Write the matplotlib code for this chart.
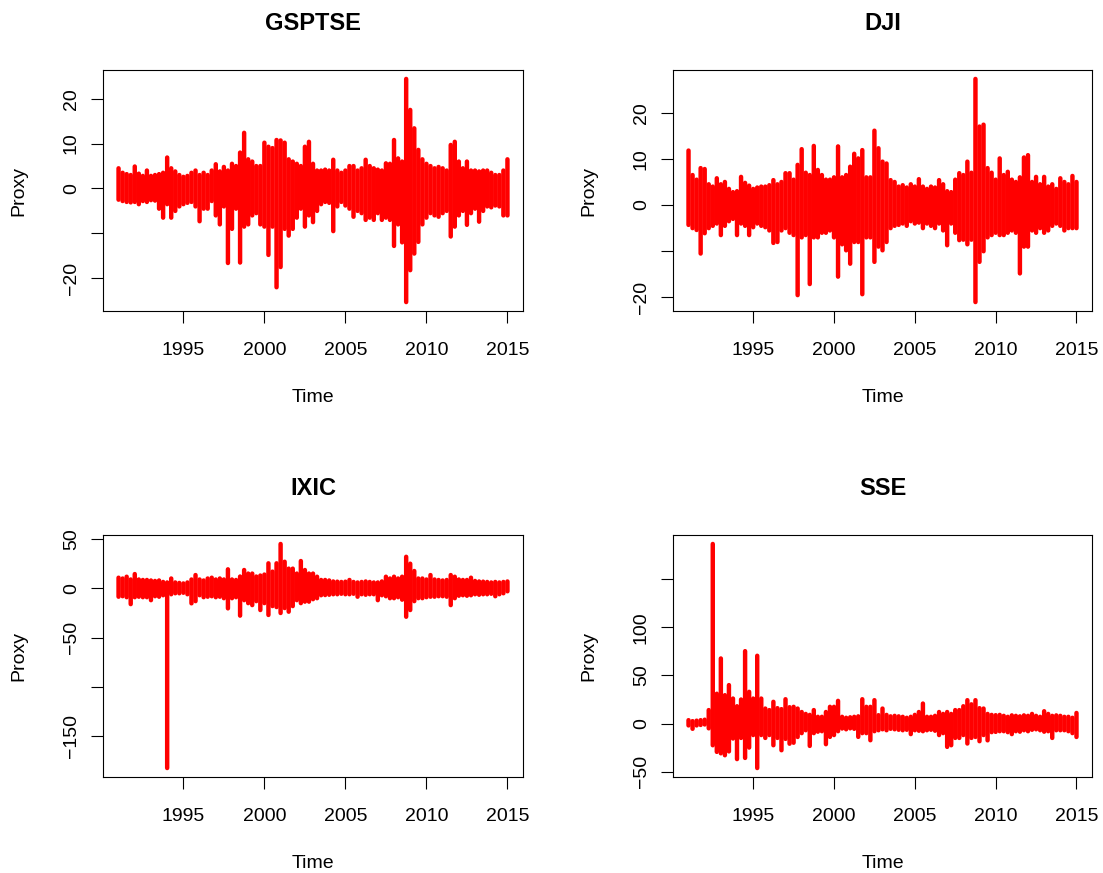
import numpy as np
import matplotlib
matplotlib.use("Agg")
import matplotlib.pyplot as plt

plt.rcParams['font.family'] = ['Liberation Sans', 'DejaVu Sans']

# Quarterly sampling of the proxy series: for every quarter the upper and
# lower excursion of the daily proxy.
START, END, STEP = 1991.0, 2015.0, 0.25

gsptse_hi = [4.5, 3.5, 3.2, 3.0, 4.9, 3.3, 2.8, 4.0, 2.8, 3.0,
             3.2, 3.5, 6.9, 4.5, 3.8, 3.0, 2.6, 2.8, 3.5, 4.0,
             3.0, 3.5, 3.0, 4.0, 5.4, 3.8, 4.8, 4.0, 5.5, 5.0,
             8.0, 12.4, 6.5, 6.0, 5.0, 5.0, 10.2, 9.3, 9.0, 10.8,
             10.7, 10.2, 6.5, 6.0, 5.5, 5.0, 9.3, 10.4, 5.5, 4.0,
             4.0, 4.2, 4.0, 6.4, 4.0, 3.5, 4.0, 5.0, 5.0, 4.0,
             4.5, 6.4, 5.0, 4.5, 4.2, 4.0, 5.6, 5.5, 10.8, 6.7,
             6.0, 24.4, 17.5, 13.4, 8.6, 6.5, 5.5, 5.0, 4.5, 4.8,
             4.5, 4.0, 9.7, 10.4, 6.0, 4.5, 6.0, 4.0, 4.0, 3.8,
             4.0, 4.0, 3.5, 3.0, 3.0, 4.0, 6.5]
gsptse_lo = [-2.5, -2.8, -3.0, -3.1, -3.0, -3.5, -2.8, -3.0, -2.6, -2.7,
             -4.5, -6.5, -3.5, -6.5, -5.0, -4.0, -3.5, -3.2, -3.0, -4.0,
             -7.3, -4.5, -4.5, -2.8, -6.0, -8.0, -4.0, -16.6, -9.0, -4.5,
             -16.5, -8.5, -8.0, -6.0, -5.5, -8.0, -8.5, -14.8, -8.5, -22.0,
             -17.5, -9.0, -10.5, -9.0, -6.5, -4.5, -8.5, -6.0, -7.5, -5.0,
             -3.5, -3.0, -3.2, -9.5, -4.0, -3.0, -3.8, -4.5, -6.3, -5.0,
             -5.5, -7.0, -6.5, -7.0, -5.5, -7.0, -6.5, -7.0, -12.8, -8.0,
             -12.0, -25.3, -18.2, -14.5, -11.9, -8.0, -6.5, -5.5, -6.0, -6.3,
             -5.5, -5.0, -10.7, -8.5, -6.0, -5.0, -8.1, -5.5, -4.5, -7.4,
             -5.0, -4.0, -4.2, -3.8, -4.0, -6.0, -6.0]

dji_hi = [11.8, 6.5, 5.5, 8.0, 7.8, 4.5, 4.0, 5.8, 4.5, 5.0,
          3.5, 2.8, 3.0, 6.1, 4.8, 4.2, 3.5, 3.8, 4.0, 4.0,
          4.3, 5.4, 4.5, 5.0, 6.9, 6.9, 5.5, 8.7, 12.1, 7.0,
          6.5, 12.8, 7.6, 6.5, 5.5, 5.5, 6.0, 12.7, 6.0, 6.5,
          8.3, 11.1, 10.1, 11.9, 6.0, 6.0, 16.1, 12.3, 9.4, 9.0,
          5.4, 5.0, 4.0, 4.3, 3.8, 4.5, 4.0, 5.6, 4.0, 3.5,
          4.0, 3.8, 5.4, 4.5, 3.0, 2.8, 5.5, 6.9, 6.5, 9.4,
          7.0, 27.3, 17.0, 17.4, 8.0, 7.0, 5.5, 10.1, 6.5, 7.2,
          5.5, 5.0, 6.0, 10.3, 10.8, 5.0, 6.1, 4.5, 6.1, 4.0,
          4.5, 3.5, 5.8, 5.0, 4.5, 6.3, 5.0]
dji_lo = [-4.3, -5.0, -5.4, -10.5, -6.1, -5.0, -4.5, -4.0, -6.5, -4.5,
          -3.5, -3.0, -6.5, -4.0, -4.5, -6.5, -4.8, -4.0, -4.5, -4.8,
          -5.5, -8.2, -8.0, -5.5, -5.0, -6.0, -6.5, -19.5, -7.0, -6.5,
          -17.1, -7.0, -7.0, -6.0, -6.0, -5.5, -7.0, -15.5, -8.5, -9.8,
          -12.7, -8.0, -8.0, -19.3, -7.0, -7.0, -12.3, -9.0, -9.8, -8.0,
          -5.0, -4.5, -4.3, -4.0, -4.5, -3.5, -4.0, -3.8, -5.0, -4.0,
          -4.5, -5.0, -4.0, -5.5, -8.7, -4.0, -6.0, -7.6, -7.5, -8.5,
          -7.5, -21.0, -12.3, -10.0, -7.0, -6.5, -6.0, -6.5, -6.5, -6.0,
          -5.5, -6.0, -14.8, -9.0, -9.0, -5.5, -6.0, -5.0, -6.0, -5.5,
          -4.5, -4.0, -4.5, -5.5, -5.0, -5.0, -5.0]

ixic_hi = [10.8, 10.0, 11.8, 9.0, 14.5, 9.0, 8.5, 8.5, 8.0, 7.5,
           8.0, 6.5, 6.0, 10.0, 6.0, 5.5, 5.0, 6.0, 9.0, 13.5,
           9.0, 8.0, 10.0, 10.8, 9.0, 10.0, 9.0, 19.3, 9.0, 8.5,
           12.0, 18.6, 15.0, 15.0, 12.0, 13.0, 14.0, 25.4, 17.0, 25.4,
           45.0, 27.0, 20.0, 20.0, 15.0, 27.7, 18.6, 15.0, 15.0, 11.8,
           8.5, 8.5, 8.0, 7.0, 6.8, 6.5, 6.8, 8.5, 6.5, 6.0,
           6.5, 7.0, 6.5, 6.0, 6.0, 7.0, 11.8, 10.0, 11.8, 10.0,
           11.8, 32.0, 25.0, 17.6, 10.0, 10.0, 9.0, 13.5, 9.0, 8.5,
           8.0, 8.5, 13.5, 11.8, 9.0, 8.5, 8.5, 10.8, 7.5, 7.0,
           6.8, 6.5, 6.0, 6.5, 6.0, 6.5, 7.0]
ixic_lo = [-8.5, -8.0, -9.0, -16.0, -9.0, -8.5, -9.0, -9.0, -12.0, -8.0,
           -8.5, -7.0, -182.2, -6.0, -5.0, -5.0, -4.5, -6.0, -15.2, -13.0,
           -7.0, -9.0, -8.5, -8.0, -9.0, -8.5, -10.0, -20.3, -10.0, -9.0,
           -27.7, -12.0, -15.0, -17.0, -13.0, -22.0, -15.0, -27.0, -18.0, -19.0,
           -25.0, -20.0, -23.7, -18.0, -12.0, -15.0, -13.5, -13.5, -11.0, -10.0,
           -7.0, -6.8, -6.5, -6.0, -6.0, -5.5, -6.0, -6.0, -5.5, -8.5,
           -6.0, -6.5, -6.0, -6.0, -12.0, -7.0, -8.0, -10.0, -10.0, -9.0,
           -11.5, -28.8, -22.0, -13.0, -10.0, -10.0, -9.0, -8.5, -8.5, -8.0,
           -8.0, -8.5, -17.0, -10.0, -7.5, -7.0, -7.5, -7.0, -6.0, -6.5,
           -6.0, -6.0, -5.5, -8.0, -6.0, -5.0, -3.0]

sse_hi = [3.5, 2.5, 3.0, 3.5, 4.0, 14.0, 186.8, 31.0, 67.7, 29.5,
          40.0, 26.0, 18.0, 25.0, 75.3, 33.0, 26.0, 70.5, 26.0, 15.6,
          14.0, 22.6, 16.0, 15.0, 25.3, 17.0, 17.4, 15.6, 12.0, 10.0,
          9.0, 14.0, 7.0, 7.0, 12.0, 17.4, 17.4, 23.6, 7.0, 6.0,
          6.5, 7.0, 7.5, 25.3, 17.4, 17.4, 24.3, 8.7, 15.6, 9.0,
          7.5, 8.0, 7.5, 7.0, 6.0, 7.0, 9.0, 12.0, 20.8, 7.0,
          7.0, 8.0, 12.0, 10.0, 12.0, 10.0, 14.0, 14.0, 18.0, 24.3,
          20.0, 24.3, 16.0, 15.6, 10.0, 9.0, 8.7, 9.0, 8.0, 7.0,
          8.5, 8.0, 7.5, 8.5, 8.0, 10.0, 8.0, 7.0, 12.8, 10.0,
          8.0, 8.5, 8.0, 7.0, 7.0, 6.0, 11.0]
sse_lo = [-2.0, -5.5, -2.0, -1.5, -1.0, -5.0, -22.6, -29.5, -31.0, -33.0,
          -29.0, -15.6, -37.0, -15.0, -35.8, -25.0, -12.0, -46.3, -12.0, -15.0,
          -12.0, -22.6, -15.0, -27.8, -16.0, -21.0, -20.0, -14.0, -10.0, -7.0,
          -23.3, -10.0, -8.5, -8.0, -21.5, -13.9, -12.0, -8.0, -5.2, -6.0,
          -5.0, -5.5, -13.9, -10.0, -10.0, -17.4, -8.0, -7.0, -6.0, -7.0,
          -5.5, -6.0, -6.5, -7.0, -6.5, -11.0, -7.0, -7.5, -8.0, -7.0,
          -6.5, -7.5, -12.0, -10.0, -24.3, -22.6, -15.0, -15.0, -12.0, -20.8,
          -15.0, -14.0, -18.4, -12.0, -17.5, -9.0, -8.7, -8.0, -8.0, -9.0,
          -11.0, -8.0, -8.5, -7.0, -8.0, -6.5, -6.0, -7.0, -8.5, -8.0,
          -15.0, -7.0, -7.0, -7.0, -8.0, -10.0, -14.0]

titles = ["GSPTSE", "DJI", "IXIC", "SSE"]
x_ticks = [1995, 2000, 2005, 2010, 2015]
gsptse_yticks = [-20, -10, 0, 10, 20]
gsptse_ylabels = ["\u221220", "", "0", "10", "20"]
dji_yticks = [-20, -10, 0, 10, 20]
dji_ylabels = ["\u221220", "", "0", "10", "20"]
ixic_yticks = [-150, -100, -50, 0, 50]
ixic_ylabels = ["\u2212150", "", "\u221250", "0", "50"]
sse_yticks = [-50, 0, 50, 100, 150]
sse_ylabels = ["\u221250", "0", "50", "100", ""]

series = [
    (gsptse_hi, gsptse_lo, gsptse_yticks, gsptse_ylabels),
    (dji_hi, dji_lo, dji_yticks, dji_ylabels),
    (ixic_hi, ixic_lo, ixic_yticks, ixic_ylabels),
    (sse_hi, sse_lo, sse_yticks, sse_ylabels),
]

W, H = 1103, 873
fig = plt.figure(figsize=(W / 100, H / 100), dpi=100)

# panel frames in pixels: (left, top, right, bottom)
frames = [(103, 70, 523, 311), (673, 70, 1092, 311),
          (103, 535, 523, 777), (673, 535, 1092, 777)]

for (l, t, r, b), title, (hi, lo, yt, yl) in zip(frames, titles, series):
    ax = fig.add_axes([l / W, 1 - b / H, (r - l) / W, (b - t) / H])
    times = START + STEP * np.arange(len(hi))
    # each quarter drawn as a vertical stroke spanning its low..high range
    strokes = ax.vlines(times, lo, hi, colors="#ff0000", linewidth=3.2,
                        capstyle="round")
    strokes.set_snap(False)

    span = END - START
    ax.set_xlim(START - 0.04 * span, END + 0.04 * span)
    ymin, ymax = min(lo), max(hi)
    yr = ymax - ymin
    ax.set_ylim(ymin - 0.04 * yr, ymax + 0.04 * yr)

    ax.set_xticks(x_ticks)
    ax.set_xticklabels([str(v) for v in x_ticks])
    ax.set_yticks(yt)
    ax.set_yticklabels(yl, rotation=90, va="center")

    for s in ax.spines.values():
        s.set_linewidth(0.8)
        s.set_color("black")
    ax.tick_params(axis="both", direction="out", length=8.6, width=0.8,
                   labelsize=14, colors="black")
    ax.tick_params(axis="x", pad=14)
    ax.tick_params(axis="y", pad=8)

    ax.set_title(title, fontsize=17, fontweight="bold", pad=29)
    ax.set_xlabel("Time", fontsize=14, va="center")
    ax.xaxis.set_label_coords(0.5, -86 / (b - t))
    ax.set_ylabel("Proxy", fontsize=14, va="center")
    ax.yaxis.set_label_coords(-84 / (r - l), 0.5)

fig.savefig("out.png", dpi=100, facecolor="white")
